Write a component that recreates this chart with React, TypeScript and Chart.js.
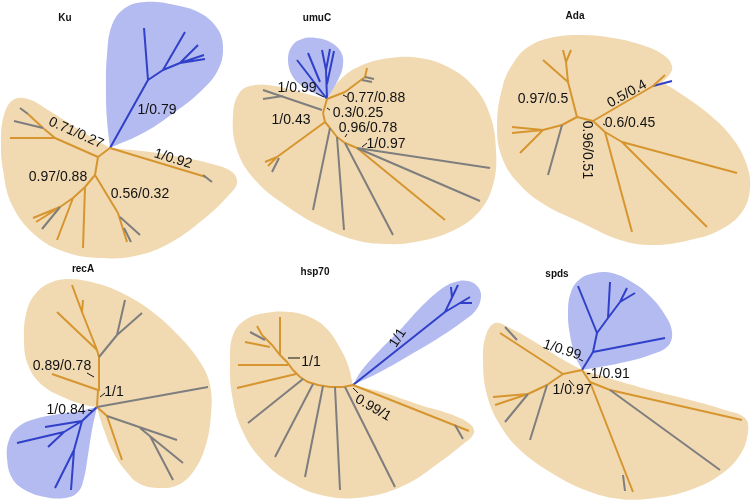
import React, { useEffect, useRef } from "react";
import { Chart, registerables } from "chart.js";

Chart.register(...registerables);

// ---------- colours ----------
const PEACH = "#F1DAB2";
const LILAC = "#B3BBF0";
const ORANGE = "#D6952F";
const BLUE = "#3040C8";
const GRAY = "#7E7E7E";
const INK = "#111111";

// ---------- panel titles ----------
const titles: [string, number, number][] = [
  ["Ku", 65, 18],
  ["umuC", 317, 18],
  ["Ada", 575, 16],
  ["recA", 83, 269],
  ["hsp70", 315, 272],
  ["spds", 557, 274],
];

// ---------- Ku ----------
const kuOrangeBlob = [[110,148],[80,130],[48,110],[28,99],[13,100],[4,115],[1,140],[3,170],[12,205],[35,235],[65,252],[100,258],[135,256],[170,243],[205,218],[228,196],[237,183],[232,172],[212,164],[180,157],[150,152],[110,148]];
const kuBlueBlob = [[110,148],[107,120],[106,90],[107,55],[112,25],[125,8],[145,2],[175,5],[200,13],[217,28],[223,47],[218,70],[200,92],[175,112],[145,132],[110,148]];
const kuBlue = [[110,148,148,80],[148,80,144,28],[148,80,163,70],[163,70,185,32],[163,70,180,63],[180,63,198,45],[180,63,205,59],[180,63,204,55]];
const kuOrange = [[110,148,98,157],[98,157,55,138],[55,138,10,138],[55,138,43,128],[43,128,28,114],[110,148,206,177],[98,157,95,175],[95,175,85,187],[95,175,118,213],[118,213,127,242],[85,187,83,248],[85,187,73,198],[73,198,57,240],[73,198,60,207],[60,207,33,218],[60,207,36,222]];
const kuGray = [[28,114,20,108],[43,128,14,121],[203,175,212,182],[120,217,140,235],[124,228,131,242],[60,207,42,229]];
const kuLabels: [string, number, number, number][] = [
  ["1/0.79", 157, 110, 0],
  ["0.71/0.27", 76, 133, 24],
  ["1/0.92", 173, 159, 17],
  ["0.97/0.88", 58, 177, 0],
  ["0.56/0.32", 140, 194, 0],
];

// ---------- umuC ----------
const umuOrangeBlob = [[327,99],[340,80],[360,66],[390,58],[420,58],[450,68],[475,88],[490,115],[496,150],[493,185],[478,213],[450,232],[415,242],[385,244],[355,240],[320,226],[285,205],[255,180],[237,150],[233,115],[240,92],[255,85],[275,86],[300,92],[318,97],[327,99]];
const umuBlueBlob = [[327,99],[318,95],[305,88],[293,77],[288,60],[292,46],[302,39],[316,38],[330,42],[341,52],[343,65],[338,80],[327,99]];
const umuBlue = [[327,99,297,60],[320,82,308,53],[327,99,326,70],[326,70,322,50],[326,70,330,49],[327,84,334,51]];
const umuOrange = [[327,99,345,92],[345,92,365,77],[365,77,367,68],[327,99,323,113],[323,113,325,122],[325,122,277,157],[277,157,265,162],[277,157,268,166],[325,122,330,128],[330,128,337,137],[337,137,345,143],[345,143,357,148],[357,148,445,220]];
const umuGray = [[365,77,374,79],[362,80,372,82],[322,110,263,90],[283,96,263,99],[279,158,272,172],[330,128,313,210],[337,137,344,230],[345,143,393,235],[357,148,490,168],[357,148,480,201]];
const umuLeaders = [[316,93,324,97],[343,95,347,97],[327,108,330,110],[345,137,347,134],[362,147,367,143]];
const umuLabels: [string, number, number, number][] = [
  ["1/0.99", 297, 88, 0],
  ["0.77/0.88", 376, 98, 0],
  ["0.3/0.25", 358, 113, 0],
  ["1/0.43", 291, 120, 0],
  ["0.96/0.78", 368, 128, 0],
  ["1/0.97", 386, 144, 0],
];

// ---------- Ada ----------
const adaOrangeBlob = [[662,82],[670,74],[672,66],[665,56],[645,46],[613,38],[580,35],[550,38],[528,47],[514,62],[503,85],[497,127],[503,160],[520,185],[545,205],[580,222],[620,240],[653,245],[690,240],[720,230],[742,212],[750,187],[745,160],[730,135],[710,115],[690,100],[675,90],[662,82]];
const adaBlue = [[653,86,672,81]];
const adaOrange = [[577,117,593,121],[577,117,568,82],[568,82,543,60],[568,82,566,62],[566,62,563,50],[566,62,571,50],[577,117,562,125],[562,125,543,130],[543,130,512,127],[543,130,512,133],[543,130,520,153],[593,121,653,86],[653,86,665,75],[593,121,605,132],[605,132,632,232],[605,132,622,142],[622,142,707,227],[622,142,737,173]];
const adaGray = [[562,125,548,175]];
const adaLeaders = [[603,124,605,125]];
const adaLabels: [string, number, number, number][] = [
  ["0.97/0.5", 543, 99, 0],
  ["0.5/0.4", 627, 94, -29],
  ["0.6/0.45", 630, 123, 0],
  ["0.96/0.51", 587, 150, 90],
];

// ---------- recA ----------
const recOrangeBlob = [[97,407],[85,405],[65,398],[42,385],[28,365],[24,340],[27,310],[37,292],[52,282],[70,279],[95,283],[120,292],[150,310],[178,335],[200,362],[210,385],[211,415],[205,448],[193,472],[178,485],[160,488],[140,484],[125,470],[112,450],[104,430],[99,415],[97,407]];
const recBlueBlob = [[97,407],[92,430],[88,455],[84,478],[78,492],[65,498],[45,497],[25,490],[12,478],[7,458],[9,440],[18,427],[35,419],[60,414],[80,411],[97,407]];
const recBlue = [[97,407,82,421],[82,421,45,427],[82,421,64,432],[64,432,17,443],[64,432,48,447],[82,421,74,450],[74,450,55,488],[74,450,71,490]];
const recOrange = [[97,407,98,390],[98,390,52,374],[98,390,99,357],[99,357,97,350],[97,350,57,312],[97,350,82,312],[82,312,72,285],[82,312,83,300],[97,407,107,416],[107,416,122,460]];
const recGray = [[99,357,117,335],[117,335,125,300],[117,335,142,313],[97,407,208,387],[107,416,177,440],[140,428,183,463],[150,436,173,480]];
const recLeaders = [[87,373,94,377],[100,397,105,393],[88,410,92,411]];
const recLabels: [string, number, number, number][] = [
  ["0.89/0.78", 62, 366, 0],
  ["1/1", 114, 392, 0],
  ["1/0.84", 66, 410, 0],
];

// ---------- hsp70 ----------
const hspOrangeBlob = [[353,385],[348,365],[340,348],[328,330],[312,318],[290,312],[265,313],[245,320],[233,335],[230,360],[232,395],[242,430],[262,460],[290,482],[325,496],[365,497],[405,485],[440,462],[462,445],[474,433],[470,424],[450,414],[420,405],[385,393],[353,385]];
const hspBlueBlob = [[353,385],[362,370],[380,350],[400,330],[420,308],[440,290],[455,282],[468,281],[478,287],[481,297],[476,310],[462,322],[440,337],[410,355],[380,372],[353,385]];
const hspBlue = [[353,385,445,312],[445,312,458,285],[452,298,451,287],[445,312,470,297],[460,303,472,303]];
const hspOrange = [[353,385,469,431],[353,385,343,387,330,387,318,385,308,382,300,377,293,370,287,362,280,355,272,345,262,335],[296,374,237,388],[288,365,238,365],[280,355,280,317],[270,347,245,342],[262,335,257,326]];
const hspGray = [[455,425,463,439],[345,387,395,487],[335,387,340,490],[323,386,305,477],[313,384,275,457],[303,379,248,423],[265,340,250,332]];
const hspLeaders = [[288,358,300,358],[353,388,358,393]];
const hspLabels: [string, number, number, number][] = [
  ["1/1", 398, 338, -58],
  ["1/1", 311, 362, 0],
  ["0.99/1", 373, 408, 30],
];

// ---------- spds ----------
const spdOrangeBlob = [[582,370],[560,358],[535,342],[510,328],[495,323],[486,335],[483,360],[487,395],[500,425],[520,450],[550,472],[585,490],[620,499],[655,498],[690,490],[720,475],[740,455],[748,432],[745,418],[725,410],[690,400],[650,390],[615,380],[595,374],[582,370]];
const spdBlueBlob = [[582,370],[575,355],[570,335],[568,312],[571,292],[580,279],[595,273],[612,273],[632,282],[650,296],[665,315],[672,332],[668,346],[650,355],[625,362],[600,367],[582,370]];
const spdBlue = [[582,370,593,352],[593,352,665,338],[593,352,597,333],[597,333,578,286],[597,333,608,318],[608,318,610,282],[608,318,620,302],[620,302,627,288],[620,302,635,293]];
const spdOrange = [[582,370,563,374],[563,374,500,333],[563,374,547,385],[547,385,528,394],[528,394,493,397],[528,394,495,405],[582,370,590,382],[590,382,633,492],[590,382,610,390],[610,390,742,420]];
const spdGray = [[517,340,505,327],[528,394,505,422],[547,385,530,440],[623,475,625,491],[610,390,720,470]];
const spdLeaders = [[579,359,583,361],[569,380,574,386]];
const spdLabels: [string, number, number, number][] = [
  ["1/0.99", 562, 350, 18],
  ["-1/0.91", 608, 374, 0],
  ["1/0.97", 572, 390, 0],
];

const orangeBlobs = [kuOrangeBlob, umuOrangeBlob, adaOrangeBlob, recOrangeBlob, hspOrangeBlob, spdOrangeBlob];
const blueBlobs = [kuBlueBlob, umuBlueBlob, recBlueBlob, hspBlueBlob, spdBlueBlob];
const orangeBranches = [kuOrange, umuOrange, adaOrange, recOrange, hspOrange, spdOrange];
const grayBranches = [kuGray, umuGray, adaGray, recGray, hspGray, spdGray];
const blueBranches = [kuBlue, umuBlue, adaBlue, recBlue, hspBlue, spdBlue];
const leaderLines = [umuLeaders, adaLeaders, recLeaders, hspLeaders, spdLeaders];
const supportLabels = [kuLabels, umuLabels, adaLabels, recLabels, hspLabels, spdLabels];

function blobDataset(pts: number[][], color: string) {
  return {
    data: pts.map(([x, y]) => ({ x, y })),
    showLine: true,
    fill: "shape",
    backgroundColor: color,
    borderColor: "transparent",
    borderWidth: 0,
    tension: 0.4,
    pointRadius: 0,
    order: 10,
  };
}

function branchDataset(groups: number[][][], color: string, width: number) {
  const data: { x: number; y: number }[] = [];
  groups.forEach((segs) =>
    segs.forEach((s) => {
      for (let i = 0; i < s.length; i += 2) data.push({ x: s[i], y: s[i + 1] });
      data.push({ x: NaN, y: NaN });
    })
  );
  return {
    data,
    showLine: true,
    spanGaps: false,
    fill: false,
    borderColor: color,
    backgroundColor: color,
    borderWidth: width,
    borderCapStyle: "butt",
    tension: 0,
    pointRadius: 0,
    order: 1,
  };
}

const textPlugin = {
  id: "treeText",
  afterDatasetsDraw(chart: any) {
    const { ctx } = chart;
    const xs = chart.scales.x;
    const ys = chart.scales.y;
    ctx.save();
    ctx.fillStyle = INK;
    ctx.textAlign = "center";
    ctx.textBaseline = "middle";
    ctx.font = "bold 10px 'Liberation Sans', Arial, sans-serif";
    titles.forEach(([t, x, y]) => ctx.fillText(t, xs.getPixelForValue(x), ys.getPixelForValue(y)));
    ctx.font = "14px 'Liberation Sans', Arial, sans-serif";
    supportLabels.forEach((group) =>
      group.forEach(([t, x, y, r]) => {
        ctx.save();
        ctx.translate(xs.getPixelForValue(x), ys.getPixelForValue(y));
        ctx.rotate((r * Math.PI) / 180);
        ctx.fillText(t, 0, 0);
        ctx.restore();
      })
    );
    ctx.restore();
  },
};

export default function App() {
  const ref = useRef<HTMLCanvasElement | null>(null);
  useEffect(() => {
    if (!ref.current) return;
    const datasets: any[] = [];
    orangeBlobs.forEach((b) => datasets.push(blobDataset(b, PEACH)));
    blueBlobs.forEach((b) => datasets.push({ ...blobDataset(b, LILAC), order: 9 }));
    datasets.push(branchDataset(grayBranches, GRAY, 2));
    datasets.push(branchDataset(orangeBranches, ORANGE, 2));
    datasets.push(branchDataset(blueBranches, BLUE, 2));
    datasets.push({ ...branchDataset(leaderLines, INK, 1), order: 0 });
    const chart = new Chart(ref.current, {
      type: "scatter",
      data: { datasets },
      options: {
        responsive: false,
        devicePixelRatio: 1,
        animation: false,
        layout: { padding: 0 },
        scales: {
          x: { type: "linear", min: 0, max: 752, display: false },
          y: { type: "linear", min: 0, max: 503, reverse: true, display: false },
        },
        plugins: { legend: { display: false }, tooltip: { enabled: false } },
        events: [],
      },
      plugins: [textPlugin],
    } as any);
    return () => chart.destroy();
  }, []);
  return (
    <div style={{ position: "absolute", left: 0, top: 0, width: 752, height: 503, background: "#fff" }}>
      <canvas ref={ref} width={752} height={503} style={{ display: "block" }} />
    </div>
  );
}
